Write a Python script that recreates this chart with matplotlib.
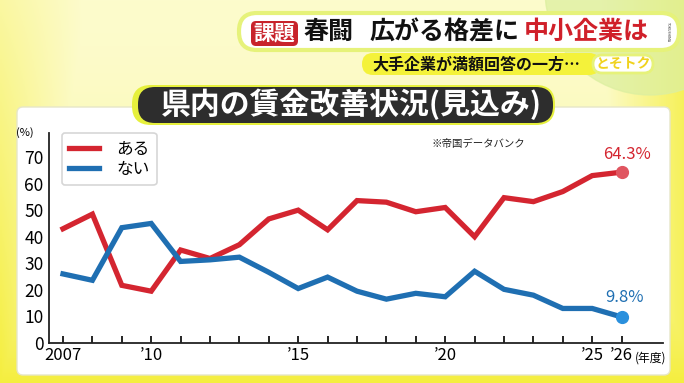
import numpy as np
import matplotlib.pyplot as plt
from matplotlib.patches import FancyBboxPatch, Circle

plt.rcParams['font.family'] = ['Noto Sans CJK JP', 'DejaVu Sans']

years = list(range(2007, 2027))
aru = [43, 48.5, 21.7, 19.5, 35, 31.8, 37, 46.7, 50, 42.6,
       53.6, 53, 49.4, 51, 40, 54.7, 53.2, 57, 63, 64.3]
nai = [26, 23.6, 43.4, 45, 30.7, 31.3, 32.3, 26.6, 20.5, 24.8,
       19.5, 16.5, 18.7, 17.4, 27, 20.2, 18, 13, 13, 9.8]
tick_years = [2007, 2010, 2015, 2020, 2025, 2026]
tick_labels = ['2007', '’10', '’15', '’20', '’25', '’26']
yticks = [0, 10, 20, 30, 40, 50, 60, 70]

RED = '#d42530'
BLUE = '#1f6fb2'
W, H = 684, 383

fig = plt.figure(figsize=(W / 100, H / 100), dpi=100)

# background layer in pixel coords
bg = fig.add_axes([0, 0, 1, 1], zorder=0)
bg.set_xlim(0, W)
bg.set_ylim(H, 0)
bg.axis('off')

yy, xx = np.mgrid[0:1:200j, 0:1:300j]
edge = np.maximum(np.clip(1 - xx / 0.12, 0, 1) * (0.3 + 0.7 * yy), yy ** 2)
edge = np.maximum(edge, np.clip((xx - 0.88) / 0.12, 0, 1) * 0.8)
r = 0.99 - 0.03 * edge
g = 0.985 - 0.05 * edge
b = 0.80 - 0.55 * edge
bg.imshow(np.dstack([r, g, b]), extent=[0, W, H, 0], aspect='auto', zorder=0)
bg.add_patch(Circle((650, -10), 105, color='#dcefa0', alpha=0.75, zorder=0.5))

# white chart panel
bg.add_patch(FancyBboxPatch((17, 107), 653, 268, boxstyle='round,pad=0,rounding_size=6',
                            fc='white', ec='#e6e6c8', lw=1, zorder=1))

# top banner
bg.add_patch(FancyBboxPatch((239, 13), 440, 37, boxstyle='round,pad=0,rounding_size=18',
                            fc='white', ec='#e6f27a', lw=3, zorder=2))
bg.add_patch(FancyBboxPatch((251, 21), 47, 25, boxstyle='round,pad=0,rounding_size=5',
                            fc='#c8232b', ec='none', zorder=3))
bg.text(274.5, 33, '課題', color='white', fontsize=15, fontweight='bold',
        ha='center', va='center', zorder=4)
bg.text(304, 32, '春闘', color='#111111', fontsize=18, fontweight='bold',
        ha='left', va='center', zorder=4)
bg.text(370, 32, '広がる格差に', color='#111111', fontsize=18, fontweight='bold',
        ha='left', va='center', zorder=4)
bg.text(524, 32, '中小企業は', color='#d0202a', fontsize=18, fontweight='bold',
        ha='left', va='center', zorder=4)
bg.text(668, 32, 'TOKUSHIMA', color='#333333', fontsize=2.5, rotation=-90,
        ha='center', va='center', zorder=4)

bg.add_patch(FancyBboxPatch((362, 53), 238, 22, boxstyle='round,pad=0,rounding_size=11',
                            fc='#f4f23a', ec='none', zorder=2))
bg.text(476, 64, '大手企業が満額回答の一方…', color='#111111', fontsize=11.5,
        fontweight='bold', ha='center', va='center', zorder=4)
bg.add_patch(FancyBboxPatch((593, 55), 60, 18, boxstyle='round,pad=0,rounding_size=9',
                            fc='white', ec='#e6f27a', lw=2, zorder=2))
bg.text(623, 64, 'とそトク', color='#f0d21e', fontsize=10, fontweight='bold',
        ha='center', va='center', zorder=4)

# title box
bg.add_patch(FancyBboxPatch((132, 85), 423, 40, boxstyle='round,pad=0,rounding_size=19',
                            fc='#e6f03c', ec='none', zorder=2))
bg.add_patch(FancyBboxPatch((138, 87), 415, 36, boxstyle='round,pad=0,rounding_size=17',
                            fc='#2d2d2d', ec='none', zorder=3))
bg.text(351, 104.5, '県内の賃金改善状況(見込み)', color='white', fontsize=21.5,
        fontweight='bold', ha='center', va='center', zorder=4)

# chart axes
x0, x1, ytop, ybot = 49, 663, 133, 343
ax = fig.add_axes([x0 / W, (H - ybot) / H, (x1 - x0) / W, (ybot - ytop) / H], zorder=2)
ax.patch.set_alpha(0)
px_year = 29.4
ax.set_xlim(2007 - (63 - x0) / px_year, 2007 + (x1 - 63) / px_year)
ax.set_ylim(0, (ybot - ytop) / 2.657)

ax.plot(years, aru, color=RED, lw=3.8, solid_joinstyle='miter', zorder=3)
ax.plot(years, nai, color=BLUE, lw=3.8, solid_joinstyle='miter', zorder=3)
ax.plot(years[-1], aru[-1], 'o', color='#e05560', ms=8.5, zorder=4)
ax.plot(years[-1], nai[-1], 'o', color='#2a90dd', ms=8.5, zorder=4)
ax.text(years[-1] + 0.2, aru[-1] + 3.3, f'{aru[-1]}%', color=RED, fontsize=12,
        ha='center', va='bottom')
ax.text(years[-1] + 0.1, nai[-1] + 4.3, f'{nai[-1]}%', color=BLUE, fontsize=12,
        ha='center', va='bottom')

for s in ['top', 'right']:
    ax.spines[s].set_visible(False)
for s in ['left', 'bottom']:
    ax.spines[s].set_color('#222222')
    ax.spines[s].set_linewidth(1.3)

ax.set_yticks(yticks)
ax.set_yticklabels([str(v) for v in yticks], fontsize=12.5)
ax.tick_params(axis='y', length=0, pad=4)
ax.set_xticks(years)
ax.set_xticklabels([tick_labels[tick_years.index(y)] if y in tick_years else '' for y in years],
                   fontsize=12)
ax.tick_params(axis='x', direction='in', length=5, width=1.2, pad=3)
ax.text(-0.025, 1.0, '(%)', transform=ax.transAxes, fontsize=8, ha='right', va='center')
ax.text(2026.45, -5.8, '(年度)', fontsize=8.5, ha='left', va='center')
ax.text(0.70, 0.97, '※帝国データバンク', transform=ax.transAxes, fontsize=7.5,
        ha='center', va='top', color='#222222')

leg = ax.legend(['ある', 'ない'], loc='upper left', bbox_to_anchor=(0.021, 1.0),
                borderaxespad=0, fontsize=12, frameon=True, handlelength=1.8,
                handletextpad=1.0, borderpad=0.45, labelspacing=0.2, fancybox=True)
leg.get_frame().set_edgecolor('#cccccc')
leg.get_frame().set_linewidth(1.2)

fig.savefig('out.png', dpi=100)
